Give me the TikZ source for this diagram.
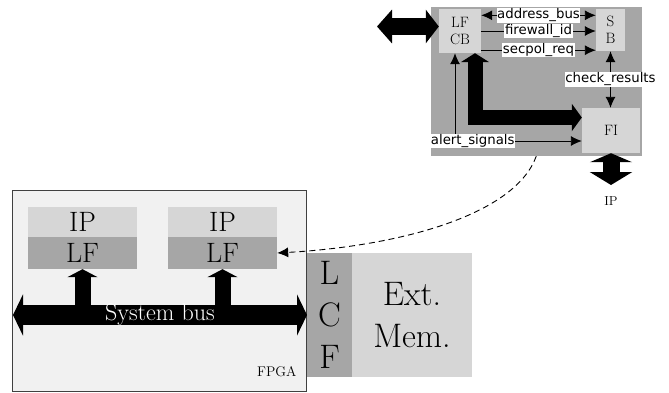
\documentclass[tikz,border=0pt]{standalone}
\usepackage{fontspec}
\newfontfamily\sigfont{DejaVu Sans}
\usetikzlibrary{arrows.meta}
\usetikzlibrary{calc}

\definecolor{panelgray}{gray}{0.65}
\definecolor{boxgray}{gray}{0.84}
\definecolor{fpgagray}{gray}{0.945}

\begin{document}
\begin{tikzpicture}[x=1pt, y=-1pt, >={Latex[length=11pt,width=10pt]},
    blk/.style={fill=boxgray, inner sep=0pt, align=center},
    sig/.style={fill=white, inner sep=0.6pt, font=\sigfont\fontsize{13.3}{15}\selectfont},
    wire/.style={line width=0.9pt},
    fat/.style={black, line join=miter}]

    \useasboundingbox (0,0) rectangle (669,392);

    % Firewall panel (top right)
    \node[fill=panelgray, minimum width=210.5pt, minimum height=149.5pt, inner sep=0pt] (panel) at (536.25,81.25) {};
    \node[blk, minimum width=42pt, minimum height=44pt, font=\fontsize{15}{17}\selectfont] (lfcb) at (460,31) {LF\\CB};
    \node[blk, minimum width=29pt, minimum height=42pt, font=\fontsize{15}{17}\selectfont] (sb) at (610.5,30) {S\\B};
    \node[blk, minimum width=58pt, minimum height=45pt, font=\fontsize{15}{17}\selectfont] (fi) at (611,130.5) {FI};

    % Signals between LFCB, SB and FI
    \coordinate (addr) at ($(lfcb.north east)+(0,6.5)$);
    \coordinate (spol) at ($(lfcb.south east)+(0,-3)$);
    \draw[wire, <->] (addr) -- (addr -| sb.west) node[sig, midway] {address\_bus};
    \draw[wire, ->] (lfcb.east) -- (lfcb.east -| sb.west) node[sig, midway] {firewall\_id};
    \draw[wire, ->] (spol) -- (spol -| sb.west) node[sig, midway] {secpol\_req};
    \draw[wire, <->] (sb.south) -- (sb.south |- fi.north) node[sig, midway] {check\_results};

    % Alert path and wide data path
    \coordinate (alert) at (455,141);
    \coordinate (bend) at (475,117.5);
    \draw[wire, <->] (lfcb.south -| alert) |- (fi.west |- alert) node[sig, pos=0.57] {alert\_signals};
    \draw[fat, line width=15pt, {Triangle[length=9pt,width=28pt]}-{Triangle[length=10pt,width=27pt]}] (lfcb.south -| bend) |- (fi.west |- bend);

    % Outside link and IP port
    \coordinate (ext) at (377,26.5);
    \coordinate (ipport) at (611,185);
    \draw[fat, line width=17pt, {Triangle[length=15pt,width=33pt]}-{Triangle[length=13pt,width=33pt]}] (ext) -- (ext -| lfcb.west);
    \draw[fat, line width=17pt, {Triangle[length=9pt,width=42pt]}-{Triangle[length=13pt,width=42pt]}] (fi.south) -- (ipport) node[below=0pt, font=\fontsize{13}{15}\selectfont] (iplabel) {IP};

    % FPGA board
    \node[fill=fpgagray, draw=black!75, line width=0.8pt, minimum width=294pt, minimum height=201pt, inner sep=0pt] (fpga) at (159,290.5) {};
    \node[anchor=base east, inner sep=0pt, font=\fontsize{14}{16}\selectfont] (fpganame) at (296.7,376.7) {FPGA};

    \node[blk, minimum width=109pt, minimum height=30pt, font=\fontsize{28}{30}\selectfont] (ipa) at (82.5,222) {IP};
    \node[blk, fill=panelgray, minimum width=109pt, minimum height=32pt, font=\fontsize{28}{30}\selectfont] (lfa) at (82.5,253) {LF};
    \node[blk, minimum width=109pt, minimum height=30pt, font=\fontsize{28}{30}\selectfont] (ipb) at (222.5,222) {IP};
    \node[blk, fill=panelgray, minimum width=109pt, minimum height=32pt, font=\fontsize{28}{30}\selectfont] (lfb) at (222.5,253) {LF};

    % System bus
    \coordinate (busl) at (13,315);
    \coordinate (busr) at (307,315);
    \draw[fat, line width=16pt, -{Triangle[length=8pt,width=30pt]}] (lfa.south |- busl) -- (lfa.south);
    \draw[fat, line width=16pt, -{Triangle[length=8pt,width=30pt]}] (lfb.south |- busl) -- (lfb.south);
    \draw[fat, line width=20pt, {Triangle[length=10pt,width=41pt]}-{Triangle[length=10pt,width=41pt]}] (busl) -- (busr) node[midway, text=white, font=\fontsize{24}{26}\selectfont] (busname) {System bus};

    % External memory and LCF
    \node[blk, fill=panelgray, minimum width=45pt, minimum height=124pt, font=\fontsize{34}{41.7}\selectfont] (lcf) at (329.5,315) {L\\C\\F};
    \node[blk, minimum width=120pt, minimum height=124pt, font=\fontsize{34}{41.7}\selectfont] (mem) at (412,315) {Ext.\\Mem.};

    % Configuration link
    \draw[wire, dash pattern=on 6pt off 4pt, ->] (panel.south) .. controls (515,215) and (400,246) .. (lfb.east);

\end{tikzpicture}
\end{document}
